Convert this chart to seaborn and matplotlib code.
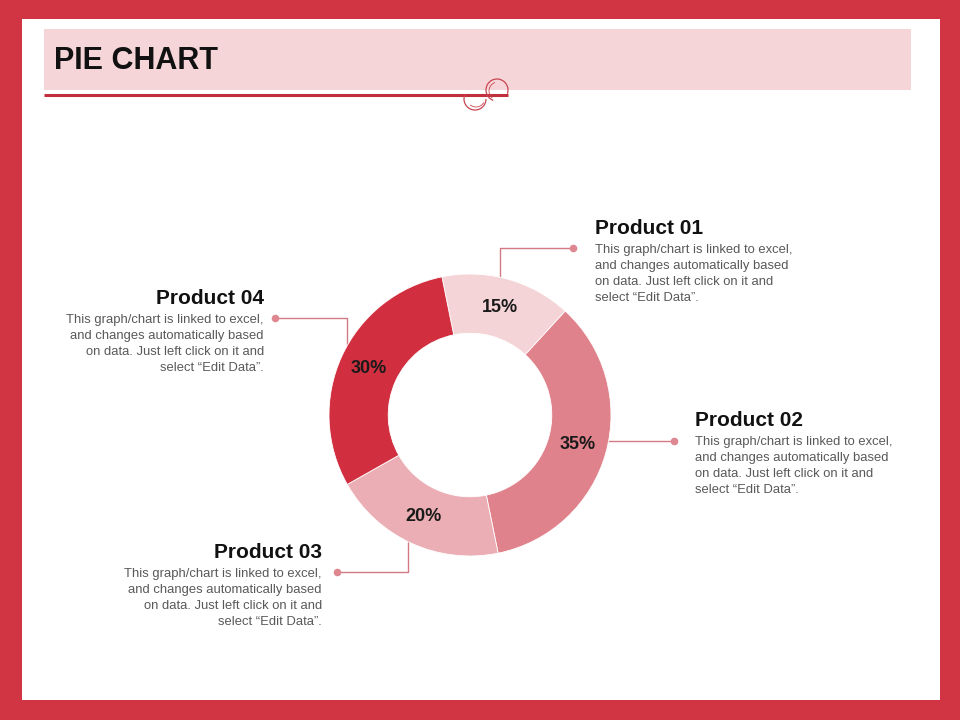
import matplotlib
matplotlib.use("Agg")
import matplotlib.pyplot as plt
from matplotlib.patches import Rectangle, Arc
import seaborn as sns

# data
products = ["Product 01", "Product 02", "Product 03", "Product 04"]
shares = [15, 35, 20, 30]
slice_colors = ["#F5D4D7", "#E0828B", "#EBAEB4", "#D12F40"]
body_lines = ["This graph/chart is linked to excel,",
              "and changes automatically based",
              "on data. Just left click on it and",
              "select \u201cEdit Data\u201d."]
title = "PIE CHART"

sns.set_theme(style="white")
plt.rcParams["font.family"] = ["Liberation Sans", "DejaVu Sans"]

W, H = 960, 720
def Y(y):
    return H - y

fig = plt.figure(figsize=(9.6, 7.2), dpi=100)
fig.patch.set_facecolor("#D13544")
ax = fig.add_axes([0, 0, 1, 1])

# white slide
ax.add_patch(Rectangle((22, Y(700)), 918, 681, facecolor="white", edgecolor="none", zorder=0))
# title band
ax.add_patch(Rectangle((44, Y(90)), 867, 61, facecolor="#F6D5D8", edgecolor="none", zorder=1))
ax.plot([44, 508], [Y(95), Y(95)], color="#C22F3C", lw=2.2, zorder=2, solid_capstyle="butt")
ax.add_patch(Arc((497, Y(90)), 22, 22, theta1=-20, theta2=250, color="#C94552", lw=0.9, zorder=3))
ax.add_patch(Arc((498, Y(91)), 18, 18, theta1=110, theta2=230, color="#C94552", lw=0.6, zorder=3))
ax.add_patch(Arc((475, Y(99)), 22, 22, theta1=160, theta2=360, color="#C94552", lw=0.9, zorder=3))
ax.add_patch(Arc((476, Y(98)), 18, 18, theta1=230, theta2=330, color="#C94552", lw=0.6, zorder=3))
ax.text(54, Y(61), title, fontsize=22, fontweight="bold", color="#111111", va="center", ha="left", zorder=4)

# donut
cx, cy, r = 470, Y(415), 141
wedges, texts, autotexts = ax.pie(
    shares, colors=slice_colors, startangle=101.5, counterclock=False,
    radius=r, center=(cx, cy), autopct="%.0f%%", pctdistance=0.79,
    wedgeprops=dict(width=r * 0.42, edgecolor="white", linewidth=0.6),
    textprops=dict(fontsize=13, fontweight="bold", color="#1A1A1A"),
    frame=True,
)
for w in wedges:
    w.set_zorder(5)
for t in autotexts:
    t.set_zorder(6)

# connectors (x/y in pixel layout)
line_c = "#D37984"
dot_c = "#DF8791"
connectors = [
    [(573, 248), (500, 248), (500, 285)],
    [(674, 441), (600, 441)],
    [(337, 572), (408, 572), (408, 535)],
    [(275, 318), (347, 318), (347, 352)],
]
for pts in connectors:
    xs = [p[0] for p in pts]
    ys = [Y(p[1]) for p in pts]
    ax.plot(xs, ys, color=line_c, lw=1.0, zorder=4)
    ax.scatter([xs[0]], [ys[0]], s=30, color=dot_c, zorder=6, linewidths=0)

# labels: (x, title y, align)
label_pos = [(595, 228, "left"), (695, 420, "left"), (322, 552, "right"), (264, 298, "right")]
for name, (x, ty, ha) in zip(products, label_pos):
    ax.text(x, Y(ty), name, fontsize=15, fontweight="bold", color="#111111", ha=ha, va="center", zorder=6)
    for i, line in enumerate(body_lines):
        ax.text(x, Y(ty + 22 + i * 16), line, fontsize=9.4, color="#595959", ha=ha, va="center", zorder=6)

ax.set_xlim(0, W)
ax.set_ylim(0, H)
ax.set_aspect("equal")
ax.axis("off")

fig.savefig("out.png", dpi=100, facecolor=fig.get_facecolor())
